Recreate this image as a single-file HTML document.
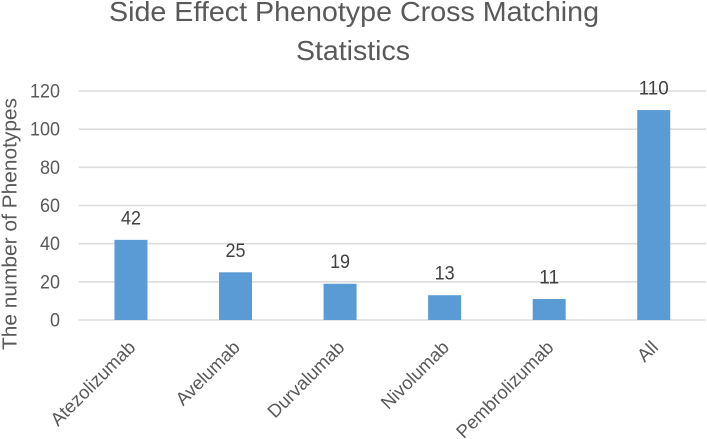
<!DOCTYPE html>
<html lang="en">
<head>
<meta charset="utf-8">
<title>Side Effect Phenotype Cross Matching Statistics</title>
<style>
html,body{margin:0;padding:0;background:#fff;width:707px;height:439px;overflow:hidden}
svg{display:block;font-family:"Liberation Sans",sans-serif;filter:blur(0.35px)}
</style>
</head>
<body>
<svg id="chart" width="707" height="439" viewBox="0 0 707 439" xmlns="http://www.w3.org/2000/svg">
  <g fill="#595959" font-size="28" text-anchor="middle">
    <text x="354" y="21" textLength="490" lengthAdjust="spacingAndGlyphs">Side Effect Phenotype Cross Matching</text>
    <text x="353" y="60" textLength="114" lengthAdjust="spacingAndGlyphs">Statistics</text>
  </g>
  <text transform="translate(16.5 350) rotate(-90)" fill="#595959" font-size="20.5" textLength="252" lengthAdjust="spacingAndGlyphs">The number of Phenotypes</text>
  <g id="grid"></g>
  <g id="yticks"></g>
  <g id="bars"></g>
  <g id="values"></g>
  <g id="xticks"></g>
</svg>
<script>
const categories = ['Atezolizumab', 'Avelumab', 'Durvalumab', 'Nivolumab', 'Pembrolizumab', 'All'];
const seriesValues = [42, 25, 19, 13, 11, 110];
const yTickLabels = [0, 20, 40, 60, 80, 100, 120];

const NS = 'http://www.w3.org/2000/svg';
const plotLeft = 78.7, plotRight = 706, plotBottom = 320, plotTop = 91;
const yMax = 120;
const barWidth = 33;
const digitWidth = 10;

function yScale(v) {
  return plotBottom - (v / yMax) * (plotBottom - plotTop);
}
function xCenter(i) {
  return plotLeft + (plotRight - plotLeft) * (i + 0.5) / categories.length;
}
function make(tag, attrs, parent, text) {
  const el = document.createElementNS(NS, tag);
  for (const k in attrs) el.setAttribute(k, attrs[k]);
  if (text !== undefined) el.textContent = text;
  parent.appendChild(el);
  return el;
}

const grid = document.getElementById('grid');
const yticks = document.getElementById('yticks');
yTickLabels.forEach(function (t) {
  const line = make('line', {x1: plotLeft, x2: plotRight, y1: yScale(t), y2: yScale(t), stroke: '#dcdcdc', 'stroke-width': 1.6}, grid);
  
  
  const label = make('text', {x: 60, y: yScale(t) + 6.5, 'text-anchor': 'end', 'font-size': 19.5, fill: '#595959', textLength: String(t).length * digitWidth, lengthAdjust: 'spacingAndGlyphs'}, yticks, String(t));
  
  
});

const bars = document.getElementById('bars');
const values = document.getElementById('values');
const xticks = document.getElementById('xticks');
categories.forEach(function (c, i) {
  const cx = xCenter(i);
  const v = seriesValues[i];
  const top = yScale(v);
  const bar = make('rect', {x: cx - barWidth / 2, y: top, width: barWidth, height: plotBottom - top, fill: '#5b9bd5'}, bars);
  
  
  const val = make('text', {x: cx, y: top - 15.5, 'text-anchor': 'middle', 'font-size': 19.5, fill: '#404040', textLength: String(v).length * digitWidth, lengthAdjust: 'spacingAndGlyphs'}, values, String(v));
  
  
  const tick = make('text', {transform: 'translate(' + (cx + 5.5) + ' 348.5) rotate(-45)', 'text-anchor': 'end', 'font-size': 18.5, fill: '#595959'}, xticks, c);
  
  
});
</script>
</body>
</html>
